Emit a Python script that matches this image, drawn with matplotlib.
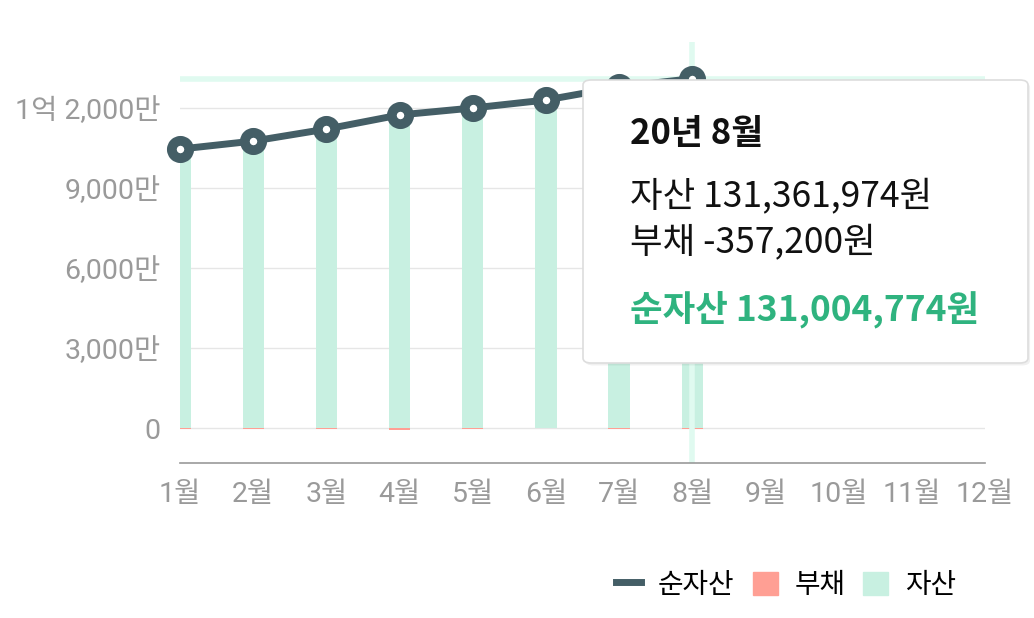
import matplotlib
matplotlib.use("Agg")
import matplotlib.pyplot as plt
from matplotlib.patches import FancyBboxPatch, Patch
from matplotlib.lines import Line2D

plt.rcParams['font.family'] = ['Roboto', 'Noto Sans CJK KR', 'DejaVu Sans']

# data (won)
months = ['1월', '2월', '3월', '4월', '5월', '6월', '7월', '8월', '9월', '10월', '11월', '12월']
net_worth = [104_600_000, 107_600_000, 112_100_000, 117_400_000, 120_000_000,
             123_000_000, 127_900_000, 131_004_774]
debt = [-400_000, -500_000, -400_000, -600_000, -300_000, -100_000, -400_000, -357_200]
assets = [105_000_000, 108_100_000, 112_500_000, 118_000_000, 120_300_000,
          123_100_000, 128_300_000, 131_361_974]
y_ticks = [0, 30_000_000, 60_000_000, 90_000_000, 120_000_000]
y_tick_labels = ['0', '3,000만', '6,000만', '9,000만', '1억 2,000만']

tooltip_title = '20년 8월'
tooltip_lines = ['자산 131,361,974원', '부채 -357,200원']
tooltip_total = '순자산 131,004,774원'
hover_idx = 7

LINE_C = '#445e66'
ASSET_C = '#c8f0e1'
DEBT_C = '#ff9f94'
CROSS_C = '#e0faf0'
GREEN = '#2fb37f'
GREY = '#9a9a9a'

fig = plt.figure(figsize=(10.34, 6.18), dpi=100)
ax = fig.add_axes([180/1034, 1 - 463/618, 805/1034, 421/618])

x = list(range(len(net_worth)))
bar_w = 0.29
ax.bar(x, assets, width=bar_w, color=ASSET_C, zorder=2)
ax.bar(x, debt, width=bar_w, color=DEBT_C, zorder=2)

# crosshair
ax.axhline(net_worth[hover_idx], color=CROSS_C, lw=4, zorder=1.5)
ax.axvline(hover_idx, color=CROSS_C, lw=4, zorder=2.5)

ax.plot(x, net_worth, color=LINE_C, lw=5, marker='o', ms=12.5,
        mfc='white', mec=LINE_C, mew=7, zorder=4, clip_on=False)

ax.set_xlim(0, 11)
ax.set_ylim(-13_100_000, 144_750_000)
ax.set_xticks(range(len(months)))
ax.set_xticklabels(months)
ax.set_yticks(y_ticks)
ax.set_yticklabels(y_tick_labels)
ax.tick_params(axis='both', length=0, labelsize=20.5, labelcolor=GREY)
ax.tick_params(axis='x', pad=13)
ax.tick_params(axis='y', pad=14)
ax.grid(axis='y', color='#e6e6e6', lw=1, zorder=0)
ax.set_axisbelow(True)
for s in ['top', 'right', 'left']:
    ax.spines[s].set_visible(False)
ax.spines['bottom'].set_color('#999999')
ax.spines['bottom'].set_linewidth(1.2)

# tooltip
x0, y0 = 583/1034, 1 - 363/618
w, h = 445/1034, 283/618
shadow = FancyBboxPatch((x0 + 0.002, y0 - 0.004), w, h, boxstyle='round,pad=0,rounding_size=0.008',
                        transform=fig.transFigure, fc='#000000', ec='none', alpha=0.06, zorder=9)
box = FancyBboxPatch((x0, y0), w, h, boxstyle='round,pad=0,rounding_size=0.008',
                     transform=fig.transFigure, fc='white', ec='#dddddd', lw=1.2, zorder=10)
fig.patches.extend([shadow, box])
tfam = ['Noto Sans CJK KR', 'DejaVu Sans']
tx = 630/1034
fig.text(tx, 1 - 133/618, tooltip_title, family=tfam, fontsize=25, fontweight='bold',
         color='#111111', va='center', ha='left', zorder=11)
fig.text(tx, 1 - 197/618, tooltip_lines[0], family=tfam, fontsize=25.5,
         color='#111111', va='center', ha='left', zorder=11)
fig.text(tx, 1 - 243/618, tooltip_lines[1], family=tfam, fontsize=25.5,
         color='#111111', va='center', ha='left', zorder=11)
fig.text(tx, 1 - 310/618, tooltip_total, family=tfam, fontsize=25.5, fontweight='bold',
         color=GREEN, va='center', ha='left', zorder=11)

# legend
handles = [Line2D([0], [0], color=LINE_C, lw=5),
           Patch(color=DEBT_C), Patch(color=ASSET_C)]
fig.legend(handles, ['순자산', '부채', '자산'], loc='center right',
           bbox_to_anchor=(956/1034, 1 - 585/618), ncol=3, frameon=False,
           handlelength=0.9, handleheight=0.9, handletextpad=0.6,
           columnspacing=0.65, borderpad=0, borderaxespad=0,
           prop={'family': tfam, 'size': 20})

fig.savefig('out.png', dpi=100)
